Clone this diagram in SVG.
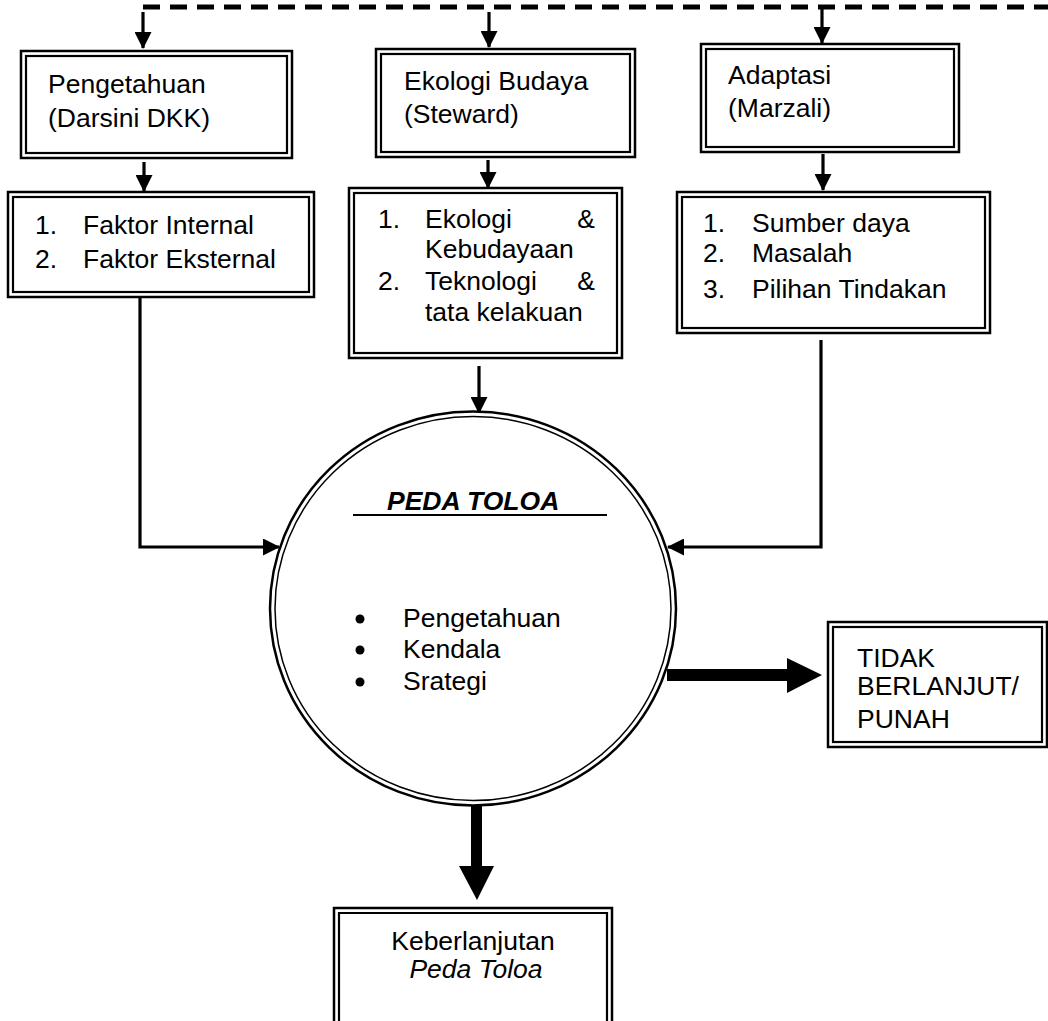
<svg xmlns="http://www.w3.org/2000/svg" width="1048" height="1021" viewBox="0 0 1048 1021">
<style>
text{font-family:"Liberation Sans",Arial,sans-serif;font-size:26.5px;fill:#000}
.o{fill:none;stroke:#000;stroke-width:2.5}
.i{fill:none;stroke:#000;stroke-width:2.2}
.c{fill:none;stroke:#000;stroke-width:3.2}
.b{font-weight:bold;font-style:italic}
.it{font-style:italic}
</style>
<defs>
<marker id="ah" markerUnits="userSpaceOnUse" markerWidth="17" markerHeight="17" refX="16" refY="8.5" orient="auto">
<path d="M0,0 L17,8.5 L0,17 Z" fill="#000"/>
</marker>
</defs>
<rect width="1048" height="1021" fill="#fff"/>
<g id="connectors">
<path d="M143 7 H1048" fill="none" stroke="#000" stroke-width="5" stroke-dasharray="17 10"/>
<path class="c" d="M143 12 V48" marker-end="url(#ah)"/>
<path class="c" d="M489 12 V47" marker-end="url(#ah)"/>
<path class="c" d="M822 8 V43" marker-end="url(#ah)"/>
<path class="c" d="M144 162 V191" marker-end="url(#ah)"/>
<path class="c" d="M488 160 V188" marker-end="url(#ah)"/>
<path class="c" d="M823 154 V190" marker-end="url(#ah)"/>
<path class="c" d="M140 298 V547 H279" marker-end="url(#ah)"/>
<path class="c" d="M479 366 V413" marker-end="url(#ah)"/>
<path class="c" d="M821 340 V547 H668" marker-end="url(#ah)"/>
<path d="M667 669 H787 V658 L822 675 L787 693 V681 H667 Z" fill="#000"/>
<path d="M471 805 H482 V866 H494 L477 900 L459 866 H471 Z" fill="#000"/>
</g>
<g id="n1">
<rect class="o" x="21" y="51" width="271" height="107"/>
<rect class="i" x="26" y="56" width="261" height="97"/>
<text x="48" y="93">Pengetahuan</text>
<text x="48" y="127">(Darsini DKK)</text>
</g>
<g id="n2">
<rect class="o" x="376" y="49" width="259" height="108"/>
<rect class="i" x="381" y="54" width="249" height="98"/>
<text x="404" y="90">Ekologi Budaya</text>
<text x="404" y="123">(Steward)</text>
</g>
<g id="n3">
<rect class="o" x="701" y="44" width="258" height="108"/>
<rect class="i" x="706" y="49" width="248" height="98"/>
<text x="728" y="84">Adaptasi</text>
<text x="728" y="117">(Marzali)</text>
</g>
<g id="n4">
<rect class="o" x="8" y="192" width="306" height="105"/>
<rect class="i" x="13" y="197" width="296" height="95"/>
<text x="35" y="234">1.</text><text x="83" y="234">Faktor Internal</text>
<text x="35" y="268">2.</text><text x="83" y="268">Faktor Eksternal</text>
</g>
<g id="n5">
<rect class="o" x="349" y="188" width="273" height="170"/>
<rect class="i" x="354" y="193" width="263" height="160"/>
<text x="378" y="228">1.</text><text x="425" y="228">Ekologi</text><text x="595" y="228" text-anchor="end">&amp;</text>
<text x="425" y="258">Kebudayaan</text>
<text x="378" y="290">2.</text><text x="425" y="290">Teknologi</text><text x="595" y="290" text-anchor="end">&amp;</text>
<text x="425" y="321">tata kelakuan</text>
</g>
<g id="n6">
<rect class="o" x="677" y="192" width="313" height="141"/>
<rect class="i" x="682" y="197" width="303" height="131"/>
<text x="703" y="232">1.</text><text x="752" y="232">Sumber daya</text>
<text x="703" y="262">2.</text><text x="752" y="262">Masalah</text>
<text x="703" y="298">3.</text><text x="752" y="298">Pilihan Tindakan</text>
</g>
<g id="n7">
<ellipse cx="473" cy="608.5" rx="203" ry="197" fill="#fff" stroke="#000" stroke-width="2.5"/>
<ellipse cx="473" cy="608.5" rx="198" ry="192" fill="none" stroke="#000" stroke-width="1.5"/>
<text x="387" y="510" class="b">PEDA TOLOA</text>
<line x1="353" y1="515" x2="607" y2="515" stroke="#000" stroke-width="2"/>
<circle cx="360" cy="619" r="4.5" fill="#000"/>
<circle cx="360" cy="650" r="4.5" fill="#000"/>
<circle cx="360" cy="682" r="4.5" fill="#000"/>
<text x="403" y="627">Pengetahuan</text>
<text x="403" y="658">Kendala</text>
<text x="403" y="690">Srategi</text>
</g>
<g id="n8">
<rect class="o" x="828" y="622" width="219" height="125"/>
<rect class="i" x="833" y="627" width="209" height="115"/>
<text x="857" y="667">TIDAK</text>
<text x="857" y="695">BERLANJUT/</text>
<text x="857" y="728">PUNAH</text>
</g>
<g id="n9">
<path class="o" d="M334 1030 V908 H612 V1030"/>
<path class="i" d="M339 1030 V913 H607 V1030"/>
<text x="473" y="950" text-anchor="middle">Keberlanjutan</text>
<text x="476" y="978" text-anchor="middle" class="it">Peda Toloa</text>
</g>
</svg>
